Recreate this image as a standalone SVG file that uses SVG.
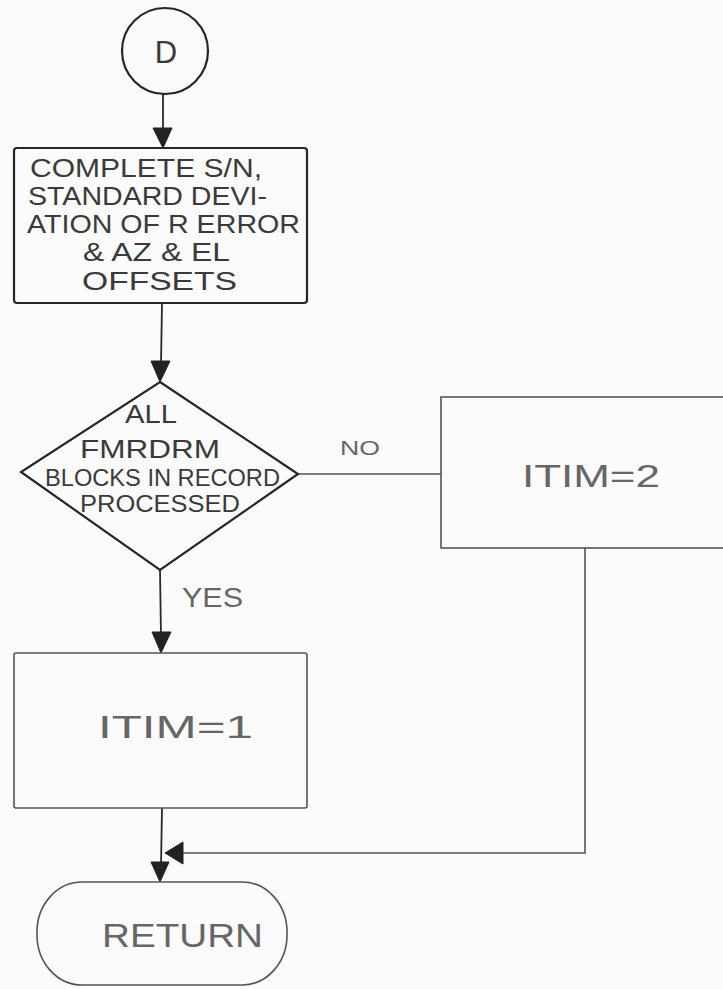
<svg xmlns="http://www.w3.org/2000/svg" width="723" height="989" viewBox="0 0 723 989">
<defs>
<style>
.bg{fill:#fbfbfb}
.shape{fill:none;stroke:#262626;stroke-width:2.2}
.shape-l{fill:none;stroke:#555;stroke-width:1.6}
.conn{fill:none;stroke:#2a2a2a;stroke-width:1.8}
.conn-l{fill:none;stroke:#555;stroke-width:1.6}
.head{fill:#222;stroke:#222;stroke-width:1}
.t{font-family:"Liberation Sans","DejaVu Sans",sans-serif;fill:#3a3a3a}
.tl{font-family:"Liberation Sans","DejaVu Sans",sans-serif;fill:#666}
</style>
</defs>
<rect class="bg" x="0" y="0" width="723" height="989"/>

<g id="connectors">
  <line class="conn" x1="163" y1="94" x2="163" y2="132"/>
  <polygon class="head" points="153,128 172,128 163,148"/>
  <line class="conn" x1="162" y1="303" x2="161" y2="364"/>
  <polygon class="head" points="151,361 170,361 160,382"/>
  <line class="conn-l" x1="298" y1="474" x2="441" y2="474"/>
  <line class="conn" x1="160" y1="570" x2="161" y2="636"/>
  <polygon class="head" points="152,632 171,632 161,653"/>
  <line class="conn" x1="162" y1="808" x2="161" y2="866"/>
  <polygon class="head" points="151,862 169,862 160,882"/>
  <polyline class="conn-l" points="585,548 585,853 178,853"/>
  <polygon class="head" points="165,853 183,842 183,864"/>
</g>

<g id="node-d">
  <circle class="shape" cx="165" cy="51" r="43"/>
  <text class="t" x="166" y="63" font-size="31" text-anchor="middle">D</text>
</g>

<g id="node-compute">
  <rect class="shape" x="14" y="148" width="293" height="155" rx="3"/>
  <text class="t" x="30" y="177" font-size="26" textLength="232" lengthAdjust="spacingAndGlyphs">COMPLETE S/N,</text>
  <text class="t" x="28" y="205" font-size="26" textLength="239" lengthAdjust="spacingAndGlyphs">STANDARD DEVI-</text>
  <text class="t" x="27" y="233" font-size="26" textLength="273" lengthAdjust="spacingAndGlyphs">ATION OF R ERROR</text>
  <text class="t" x="83" y="261" font-size="26" textLength="147" lengthAdjust="spacingAndGlyphs">&amp; AZ &amp; EL</text>
  <text class="t" x="82" y="290" font-size="26" textLength="155" lengthAdjust="spacingAndGlyphs">OFFSETS</text>
</g>

<g id="node-decision">
  <polygon class="shape" points="160,382 298,474 160,570 21,472"/>
  <text class="t" x="125" y="423" font-size="26" textLength="52" lengthAdjust="spacingAndGlyphs">ALL</text>
  <text class="t" x="80" y="458" font-size="26" textLength="140" lengthAdjust="spacingAndGlyphs">FMRDRM</text>
  <text class="t" x="45" y="486" font-size="24" textLength="235" lengthAdjust="spacingAndGlyphs">BLOCKS IN RECORD</text>
  <text class="t" x="80" y="512" font-size="24" textLength="160" lengthAdjust="spacingAndGlyphs">PROCESSED</text>
</g>

<g id="label-no">
  <text class="tl" x="340" y="455" font-size="20" textLength="40" lengthAdjust="spacingAndGlyphs">NO</text>
</g>

<g id="label-yes">
  <text class="tl" x="182" y="607" font-size="27" textLength="61" lengthAdjust="spacingAndGlyphs">YES</text>
</g>

<g id="node-itim2">
  <rect class="shape-l" x="441" y="397" width="300" height="151"/>
  <text class="tl" x="522" y="487" font-size="31" textLength="138" lengthAdjust="spacingAndGlyphs">ITIM=2</text>
</g>

<g id="node-itim1">
  <rect class="shape-l" x="14" y="653" width="293" height="155" rx="2"/>
  <text class="tl" x="98" y="738" font-size="31" textLength="155" lengthAdjust="spacingAndGlyphs">ITIM=1</text>
</g>

<g id="node-return">
  <rect class="shape-l" x="37" y="882" width="250" height="103" rx="45" ry="50"/>
  <text class="tl" x="102" y="947" font-size="34" textLength="161" lengthAdjust="spacingAndGlyphs">RETURN</text>
</g>
</svg>
